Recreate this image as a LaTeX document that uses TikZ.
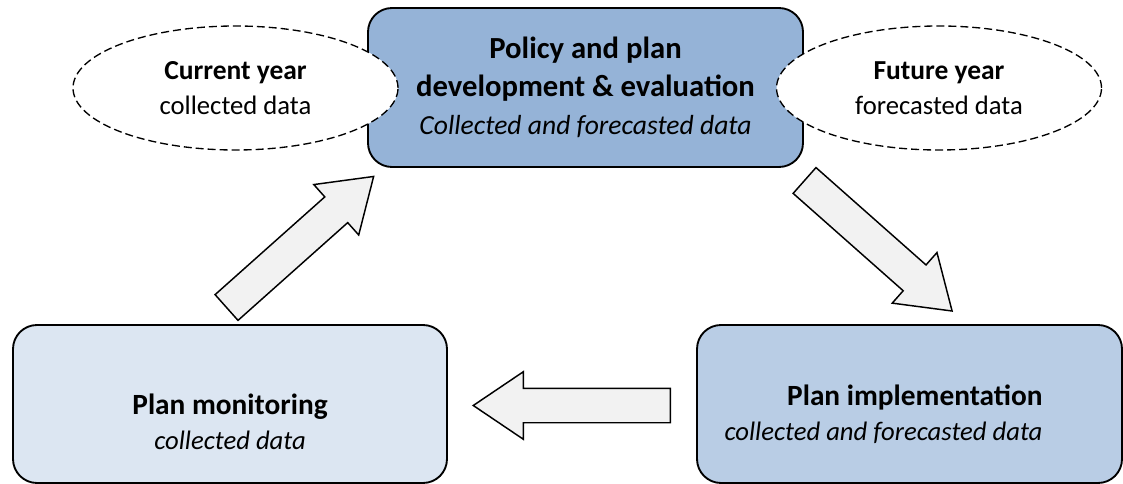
\documentclass[tikz,border=0pt]{standalone}
\usepackage{fontspec}
\setmainfont{Carlito}
\usetikzlibrary{shapes.geometric,shapes.arrows}
\definecolor{devblue}{RGB}{149,179,215}
\definecolor{implblue}{RGB}{185,205,229}
\definecolor{monblue}{RGB}{220,230,242}
\definecolor{arrowgray}{RGB}{242,242,242}
\newcommand{\headline}[1]{{\fontsize{22}{26}\selectfont\bfseries #1}}

\begin{document}
\begin{tikzpicture}[
  x=0.75pt, y=-0.75pt,
  stage/.style     = {draw, line width=1.4pt, rounded corners=18pt, inner sep=0pt,
                      minimum height=118.5pt},
  yearcloud/.style = {ellipse, draw, dash pattern=on 6pt off 3pt, line width=1pt,
                      fill=white, minimum width=243.75pt, minimum height=93pt,
                      inner sep=0pt, align=center, font=\fontsize{20}{26}\selectfont},
  flow/.style      = {single arrow, draw, line width=1.1pt, fill=arrowgray, inner sep=0pt,
                      text height=24.75pt, text depth=0pt, minimum height=147.75pt,
                      single arrow head extend=12.4pt, single arrow tip angle=68,
                      anchor=tail},
  txt/.style       = {align=center, inner sep=0pt, font=\fontsize{20}{26}\selectfont},
]
  \useasboundingbox (0,0) rectangle (1123,484);

  \node[stage, fill=devblue, minimum width=326.25pt, minimum height=119.25pt,
        align=center, font=\fontsize{23}{28.5}\selectfont] (dev) at (585.5,87.5)
        {\textbf{Policy and plan}\\ \textbf{development \& evaluation}\\
         {\fontsize{20.7}{28.5}\selectfont\itshape Collected and forecasted data}};

  % the year clouds sit on top of the box edges
  \node[yearcloud] (cur) at (235.5,88)
        {{\fontsize{20.6}{26}\selectfont\bfseries Current year}\\ collected data};
  \node[yearcloud] (fut) at (939,88)
        {{\fontsize{20.6}{26}\selectfont\bfseries Future year}\\ forecasted data};

  \node[stage, fill=monblue, minimum width=325.5pt]   (mon)  at (230,404)   {};
  \node[stage, fill=implblue, minimum width=318.75pt] (impl) at (909.5,404) {};

  \node[txt] (montxt) at (230,422) {\headline{Plan monitoring}\\ \textit{collected data}};
  \node[txt, align=left] (impltxt) at (883.5,414)
        {\hspace*{47pt}\headline{Plan implementation}\\ \textit{collected and forecasted data}};

  % the cycle: monitoring -> development -> implementation -> monitoring
  \node[flow, rotate=41.7]  (toDev)  at (226,308)   {};
  \node[flow, rotate=-41.5] (toImpl) at (804,180)   {};
  \node[flow, rotate=180]   (toMon)  at (671,405.5) {};
\end{tikzpicture}
\end{document}
